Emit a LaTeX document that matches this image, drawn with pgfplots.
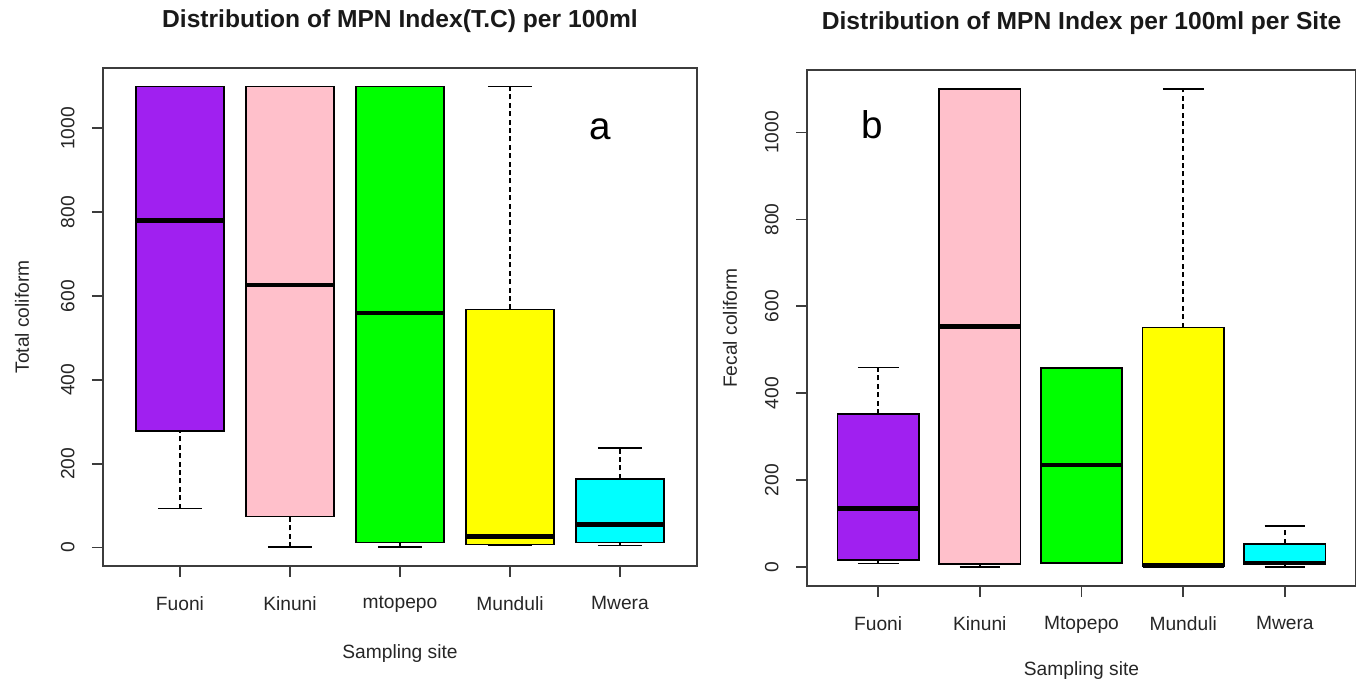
\documentclass[border=0pt]{standalone}
\usepackage{fontspec}
\setmainfont{Liberation Sans}
\usepackage{pgfplots}
\pgfplotsset{compat=1.18}
\usepgfplotslibrary{statistics}

\definecolor{rpurple}{RGB}{160,32,240}
\definecolor{rpink}{RGB}{255,192,203}
\definecolor{rgreen}{RGB}{0,255,0}
\definecolor{ryellow}{RGB}{255,255,0}
\definecolor{rcyan}{RGB}{0,255,255}
\definecolor{frame}{RGB}{60,60,60}

\pgfplotsset{
  rbox/.style={
    scale only axis,
    anchor=south west,
    xmin=0.3, xmax=5.7,
    ymin=-44, ymax=1144,
    xtick={1,2,3,4,5},
    ytick={0,200,400,600,800,1000},
    tick pos=left,
    tick align=outside,
    major tick length=5.5pt,
    axis line style={frame, line width=0.9pt},
    tick style={frame, line width=0.9pt},
    /pgf/number format/1000 sep={},
    /pgf/number format/assume math mode=true,
    ticklabel style={font=\fontsize{9.6}{11}\selectfont, text=black!85},
    xticklabel style={anchor=north, inner sep=0pt, yshift=-9.5pt},
    yticklabel style={xshift=-8.5pt, rotate=90, anchor=south, inner sep=0pt},
    label style={font=\fontsize{9.6}{11}\selectfont, text=black!85},
    every axis title/.style={at={(axis description cs:0.5,1)}, anchor=center,
      yshift=23.5pt, font=\bfseries\fontsize{12.3}{14}\selectfont, text=black!90},
    boxplot/draw direction=y,
    boxplot/box extend=0.8,
    boxplot/whisker extend=0.4,
    boxplot/every median/.style={line width=2.2pt},
    boxplot/draw/lower whisker/.code={
      \draw[line width=0.75pt, dash pattern=on 2.5pt off 1.7pt]
        (boxplot box cs:\pgfplotsboxplotvalue{lower whisker},0.5) --
        (boxplot box cs:\pgfplotsboxplotvalue{lower quartile},0.5);
      \draw[line width=0.75pt]
        (boxplot whisker cs:\pgfplotsboxplotvalue{lower whisker},0) --
        (boxplot whisker cs:\pgfplotsboxplotvalue{lower whisker},1);
    },
    boxplot/draw/upper whisker/.code={
      \draw[line width=0.75pt, dash pattern=on 2.5pt off 1.7pt]
        (boxplot box cs:\pgfplotsboxplotvalue{upper quartile},0.5) --
        (boxplot box cs:\pgfplotsboxplotvalue{upper whisker},0.5);
      \draw[line width=0.75pt]
        (boxplot whisker cs:\pgfplotsboxplotvalue{upper whisker},0) --
        (boxplot whisker cs:\pgfplotsboxplotvalue{upper whisker},1);
    },
  },
  site/.style={black, line width=0.75pt, solid, mark=none,
    boxplot/every box/.style={fill=#1, draw=black, line width=0.75pt}},
}

\begin{document}
\begin{tikzpicture}
\path[use as bounding box] (0,0) rectangle (678pt,341.5pt);

% panel a: total coliform
\begin{axis}[rbox,
    at={(51.5pt,58.5pt)}, width=297pt, height=249pt,
    xticklabels={Fuoni,Kinuni,mtopepo,Munduli,Mwera},
    title={Distribution of MPN Index(T.C) per 100ml},
    xlabel={Sampling site},
    xlabel style={at={([yshift=-44pt]axis description cs:0.5,0)}, anchor=center},
    ylabel={Total coliform},
    ylabel style={at={([xshift=-40.5pt]axis description cs:0,0.5)}, anchor=center},
]
  \addplot[site=rpurple, boxplot prepared={draw position=1,
    lower whisker=93, lower quartile=278, median=780,
    upper quartile=1100, upper whisker=1100}] coordinates {};
  \addplot[site=rpink, boxplot prepared={draw position=2,
    lower whisker=1, lower quartile=74, median=626,
    upper quartile=1100, upper whisker=1100}] coordinates {};
  \addplot[site=rgreen, boxplot prepared={draw position=3,
    lower whisker=1, lower quartile=12, median=560,
    upper quartile=1100, upper whisker=1100}] coordinates {};
  \addplot[site=ryellow, boxplot prepared={draw position=4,
    lower whisker=5, lower quartile=7, median=26,
    upper quartile=568, upper whisker=1100}] coordinates {};
  \addplot[site=rcyan, boxplot prepared={draw position=5,
    lower whisker=5, lower quartile=12, median=55,
    upper quartile=164, upper whisker=238}] coordinates {};
  \node[font=\fontsize{19.3}{22}\selectfont, anchor=center] at (axis cs:4.82,998) {a};
\end{axis}

% panel b: fecal coliform
\begin{axis}[rbox,
    at={(403.5pt,48.5pt)}, width=274.5pt, height=258pt,
    xticklabels={Fuoni,Kinuni,Mtopepo,Munduli,Mwera},
    title={Distribution of MPN Index per 100ml per Site},
    xlabel={Sampling site},
    xlabel style={at={([yshift=-42.5pt]axis description cs:0.5,0)}, anchor=center},
    ylabel={Fecal coliform},
    ylabel style={at={([xshift=-38.5pt]axis description cs:0,0.5)}, anchor=center},
]
  \addplot[site=rpurple, boxplot prepared={draw position=1,
    lower whisker=8, lower quartile=16, median=134,
    upper quartile=352, upper whisker=459}] coordinates {};
  \addplot[site=rpink, boxplot prepared={draw position=2,
    lower whisker=0, lower quartile=7, median=553,
    upper quartile=1100, upper whisker=1100}] coordinates {};
  \addplot[site=rgreen, boxplot prepared={draw position=3,
    lower whisker=9, lower quartile=9, median=235,
    upper quartile=458, upper whisker=458}] coordinates {};
  \addplot[site=ryellow, boxplot prepared={draw position=4,
    lower whisker=0, lower quartile=1, median=3,
    upper quartile=551, upper whisker=1100}] coordinates {};
  \addplot[site=rcyan, boxplot prepared={draw position=5,
    lower whisker=0, lower quartile=7, median=9,
    upper quartile=53, upper whisker=94}] coordinates {};
  \node[font=\fontsize{19.3}{22}\selectfont, anchor=center] at (axis cs:0.94,1017) {b};
\end{axis}
\end{tikzpicture}
\end{document}
